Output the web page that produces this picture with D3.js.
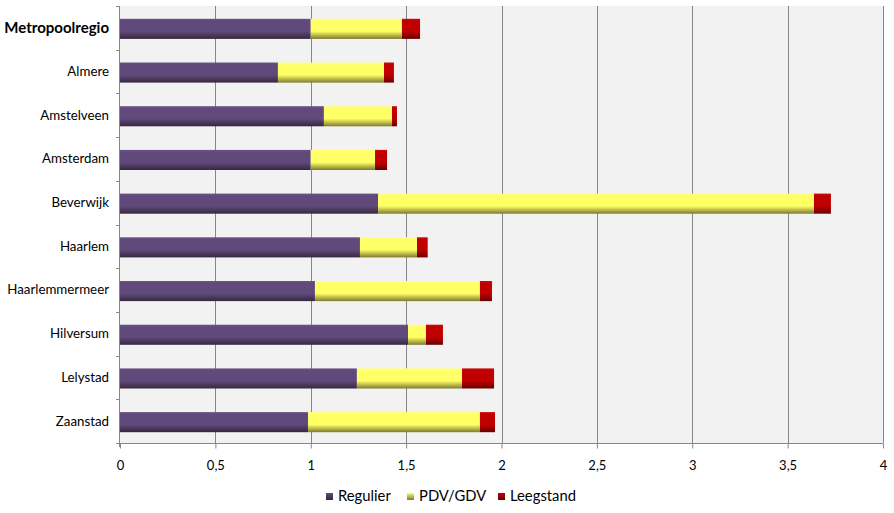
<!DOCTYPE html>
<html><head><meta charset="utf-8">
<script src="https://cdn.jsdelivr.net/npm/d3@7"></script>
<style>body{margin:0;background:#fff;} svg{display:block;font-family:Lato,"Open Sans",sans-serif;}</style>
</head><body><svg id="c" width="894" height="513"></svg>
<script>
const categories = ["Metropoolregio","Almere","Amstelveen","Amsterdam","Beverwijk","Haarlem","Haarlemmermeer","Hilversum","Lelystad","Zaanstad"];
const regulier = [1.0, 0.828, 1.069, 1.0, 1.353, 1.258, 1.022, 1.510, 1.242, 0.986];
const pdvgdv   = [0.478, 0.556, 0.357, 0.337, 2.285, 0.299, 0.865, 0.094, 0.551, 0.901];
const leegstand= [0.095, 0.052, 0.026, 0.063, 0.089, 0.056, 0.063, 0.089, 0.168, 0.079];
const seriesNames = ["Regulier","PDV/GDV","Leegstand"];
const xTicks = [0,0.5,1,1.5,2,2.5,3,3.5,4];
const xTickLabels = ["0","0,5","1","1,5","2","2,5","3","3,5","4"];

const colors = [
  {main:"#604A7B", light:"#6a5387", dark:"#36283f"},
  {main:"#FFFF66", light:"#ffff80", dark:"#7d7a2e"},
  {main:"#C00000", light:"#c80a0a", dark:"#6a0000"}
];

const svg = d3.select("#c");
const L=120, R=883, T=6, B=443;
const x = d3.scaleLinear().domain([0,4]).range([L,R]);
const y = d3.scaleBand().domain(categories).range([T,B]).paddingInner(0.54).paddingOuter(0.27);
const band = d3.scaleBand().domain(categories).range([T,B]);

const defs = svg.append("defs");
colors.forEach((c,i)=>{
  const g = defs.append("linearGradient").attr("id","g"+i).attr("x1",0).attr("y1",0).attr("x2",0).attr("y2",1);
  g.append("stop").attr("offset","0").attr("stop-color",c.light);
  g.append("stop").attr("offset","0.12").attr("stop-color",c.main);
  g.append("stop").attr("offset","0.62").attr("stop-color",c.main);
  g.append("stop").attr("offset","1").attr("stop-color",c.dark);
  const h = defs.append("linearGradient").attr("id","h"+i).attr("x1",0).attr("y1",0).attr("x2",0).attr("y2",1);
  h.append("stop").attr("offset","0").attr("stop-color",c.main);
  h.append("stop").attr("offset","1").attr("stop-color",c.dark);
});

// plot background
svg.append("rect").attr("x",L).attr("y",T).attr("width",R-L).attr("height",B-T).attr("fill","#f2f2f2");

// gridlines
svg.append("g").selectAll("line").data(xTicks.slice(1)).join("line")
  .attr("x1",d=>Math.round(x(d))+0.5).attr("x2",d=>Math.round(x(d))+0.5)
  .attr("y1",T).attr("y2",B).attr("stroke","#868686").attr("stroke-width",1);

// bars
const data = categories.map((c,i)=>({cat:c, vals:[regulier[i],pdvgdv[i],leegstand[i]]}));
const stack = d3.stack().keys([0,1,2]).value((d,k)=>d.vals[k]);
const stacked = stack(data);
stacked.forEach((layer,k)=>{
  svg.append("g").selectAll("rect").data(layer).join("rect")
    .attr("x",d=>x(d[0])).attr("width",d=>x(d[1])-x(d[0]))
    .attr("y",d=>y(d.data.cat)+1).attr("height",y.bandwidth())
    .attr("fill","url(#g"+k+")");
});

// y axis
svg.append("line").attr("x1",L-0.5).attr("x2",L-0.5).attr("y1",T).attr("y2",B+4).attr("stroke","#868686");
svg.append("g").selectAll("line").data(d3.range(categories.length+1)).join("line")
  .attr("x1",L-4).attr("x2",L).attr("y1",i=>Math.round(T+i*band.step())+0.5).attr("y2",i=>Math.round(T+i*band.step())+0.5)
  .attr("stroke","#868686");
svg.append("g").selectAll("text").data(categories).join("text")
  .attr("x",109).attr("y",d=>band(d)+band.bandwidth()/2+1)
  .attr("text-anchor","end").attr("dominant-baseline","middle")
  .attr("font-size",d=>d==="Metropoolregio"?"15px":"13.3px")
  .attr("font-weight",d=>d==="Metropoolregio"?"bold":"normal")
  .attr("fill","#000").text(d=>d);

// x axis
const xAxis = d3.axisBottom(x).tickValues(xTicks).tickSize(5).tickFormat((d,i)=>xTickLabels[i]);
const gx = svg.append("g").attr("transform",`translate(0,${B+0.5})`).call(xAxis);
gx.select(".domain").attr("stroke","#868686").attr("d",`M${L-4},0H${R}`);
gx.selectAll(".tick line").attr("stroke","#868686");
gx.selectAll(".tick text").attr("y",17).attr("font-size","13px").attr("font-family","Lato,'Open Sans',sans-serif").attr("fill","#000");

// legend
const legX = [326, 407, 498];
const lg = svg.append("g");
seriesNames.forEach((s,i)=>{
  lg.append("rect").attr("x",legX[i]).attr("y",493).attr("width",7).attr("height",7).attr("fill","url(#h"+i+")");
  lg.append("text").attr("x",legX[i]+12).attr("y",497).attr("dominant-baseline","middle")
    .attr("font-size","14.8px").attr("fill","#000").text(s);
});
</script></body></html>
